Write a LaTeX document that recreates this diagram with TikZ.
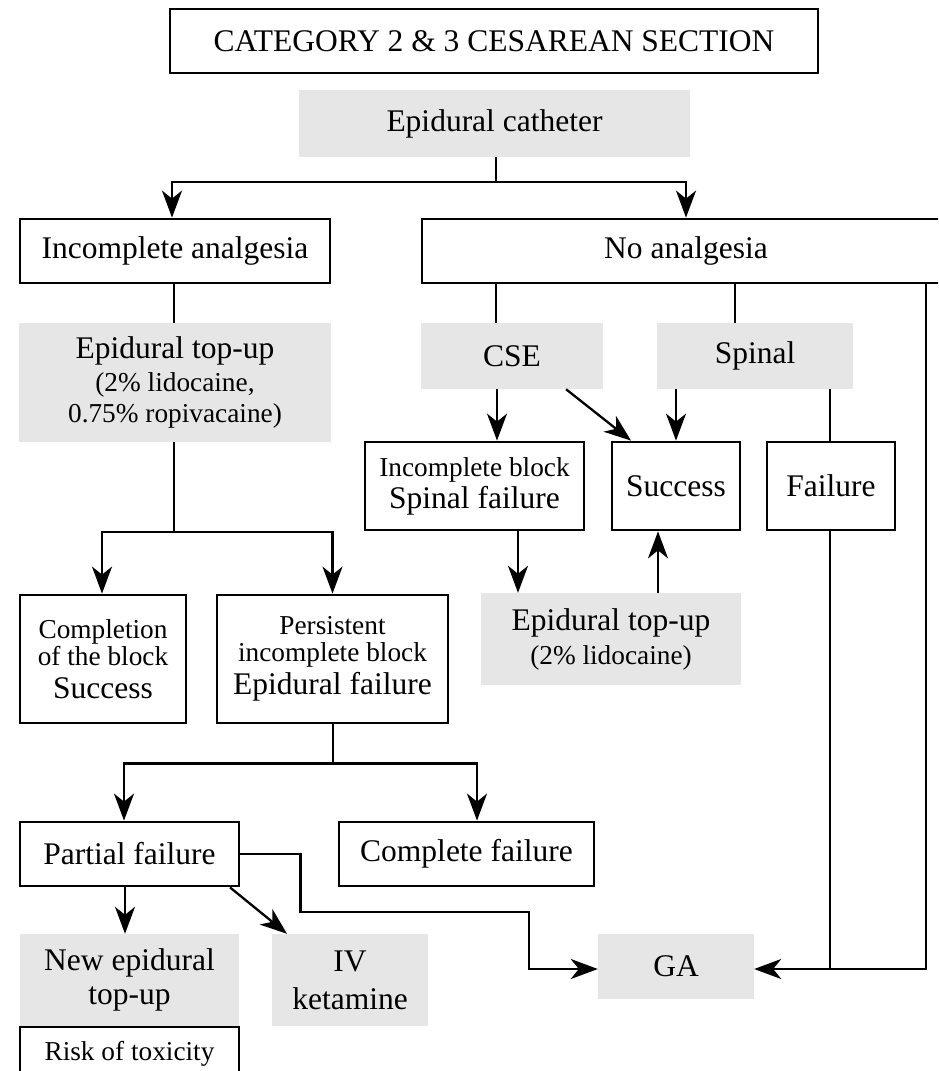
\documentclass[tikz,border=0pt]{standalone}
\usepackage{fontspec}
\setmainfont{Liberation Serif}
\usetikzlibrary{arrows.meta,calc}
\definecolor{boxgray}{RGB}{230,230,230}
\newcommand\bigtxt{\fontsize{31.5pt}{35pt}\selectfont}
\newcommand\smalltxt{\fontsize{27.3pt}{28pt}\selectfont}
\tikzset{
  base/.style={inner sep=0pt, align=center, font=\bigtxt},
  frame/.style={base, draw, line width=2.8pt},
  shade/.style={base, fill=boxgray},
  link/.style={line width=2.3pt},
  arr/.style={link, -{Stealth[length=27pt,width=20pt,inset=8pt]}},
  % box given by its corners (x1,y1) and (x2,y2)
  spanbox/.style args={#1:#2:#3:#4}{minimum width={(#3)-(#1)}, minimum height={(#4)-(#2)}},
}
\begin{document}
\begin{tikzpicture}[x=1pt,y=-1pt]
\useasboundingbox (0,0) rectangle (938,1071);
\clip (0,0) rectangle (938,1071);

% top of the chart
\node[frame, spanbox=170:9:818:73] (title) at (494,41) {CATEGORY 2 \& 3 CESAREAN SECTION};
\node[shade, spanbox=299:90:690:157] (cath) at (494.5,123.5) {Epidural catheter};

% two branches
\node[frame, spanbox=20:219:330:283] (inc) at (175,251) {Incomplete analgesia};
\node[frame, spanbox=422:219:950:283] (noan) at (686,251) {No analgesia};

% incomplete analgesia branch
\node[shade, spanbox=19:323:331:442] (top1) at (175,382.5)
  {Epidural top-up\\[-2pt]{\smalltxt (2\% lidocaine,}\\[-4pt]{\smalltxt 0.75\% ropivacaine)}};
\node[frame, spanbox=20:595:186:723] (compl) at (103,659)
  {{\smalltxt Completion}\\[-8pt]{\smalltxt of the block}\\[-2pt]Success};
\node[frame, spanbox=217:595:448:723] (pers) at (332.5,659)
  {{\smalltxt Persistent}\\[-8pt]{\smalltxt incomplete block}\\[-2pt]Epidural failure};
\node[frame, spanbox=20:822:239:886] (part) at (129.5,854) {Partial failure};
\node[frame, spanbox=339:822:594:886] (cfail) at (466.5,854) {Complete failure};
\node[shade, spanbox=20:934:239:1026] (newtop) at (129.5,980) {New epidural\\[-1pt]top-up};
\node[shade, spanbox=272:934:428:1026] (iv) at (350,980) {IV\\[3pt]ketamine};
\node[frame, spanbox=20:1027:239:1080] (risk) at (129.5,1053.5) {\smalltxt Risk of toxicity\vphantom{p}};
\node[shade, spanbox=598:934:754:999] (ga) at (676,966.5) {GA};

% no analgesia branch
\node[shade, spanbox=421:323:603:389] (cse) at (512,356) {CSE};
\node[shade, spanbox=657:323:853:389] (spin) at (755,356) {Spinal};
\node[frame, spanbox=365:442:584:530] (incb) at (474.5,486)
  {{\smalltxt Incomplete block}\\[-3pt]Spinal failure};
\node[frame, spanbox=612:442:740:530] (succ) at (676,486) {Success};
\node[frame, spanbox=767:442:895:530] (fail) at (831,486) {Failure};
\node[shade, spanbox=481:593:741:685] (top2) at (611,639)
  {Epidural top-up\\[-1pt]{\smalltxt (2\% lidocaine)}};

% connectors from the catheter
\coordinate (cathsplit) at ($(cath.south)+(1.5,25)$);
\draw[link] ([xshift=1.5pt]cath.south) -- (cathsplit);
\draw[arr] (cathsplit) -| ([xshift=-3pt]inc.north);
\draw[arr] (cathsplit) -| (noan.north);

% incomplete analgesia
\draw[link] ([xshift=-1pt]inc.south) -- ([xshift=-1pt]top1.north);
\coordinate (topsplit) at ($(top1.south)+(-1,90)$);
\draw[link] ([xshift=-1pt]top1.south) -- (topsplit);
\draw[arr] (topsplit) -| ([xshift=-1pt]compl.north);
\draw[arr] (topsplit) -| (pers.north);
\coordinate (perssplit) at ($(pers.south)+(0.5,39)$);
\draw[link] ([xshift=0.5pt]pers.south) -- (perssplit);
\draw[arr] (perssplit) -| ([xshift=-5.5pt]part.north);
\draw[arr] (perssplit) -| ([xshift=10.5pt]cfail.north);
\draw[arr] ([xshift=-4.5pt]part.south) -- ([xshift=-4.5pt]newtop.north);
\draw[arr] ([xshift=100.5pt]part.south) -- ([xshift=-63pt]iv.north);
\draw[arr] (part.east) -| ($(part.east)+(60,58)$) -| ($(ga.west)+(-69,2.5)$) -- ([yshift=-2.5pt]ga.west);

% no analgesia
\draw[link] ([xshift=-16pt]cse.north) -- ([xshift=-16pt]cse.north |- noan.south);
\draw[link] ([xshift=-20pt]spin.north) -- ([xshift=-20pt]spin.north |- noan.south);
\draw[arr] ([xshift=-15pt]cse.south) -- ([xshift=-15pt]cse.south |- incb.north);
\draw[arr] ([xshift=54pt]cse.south) -- ([xshift=-45pt]succ.north);
\draw[arr] (succ.north |- spin.south) -- (succ.north);
\draw[link] ([xshift=-1pt]fail.north |- spin.south) -- ([xshift=-1pt]fail.north);
\draw[arr] ([xshift=43.5pt]incb.south) -- ([xshift=43.5pt]incb.south |- top2.north);
\draw[arr] ([xshift=-18pt]succ.south |- top2.north) -- ([xshift=-18pt]succ.south);
\coordinate (gajoin) at ($(ga.east)+(172,2.5)$);
\draw[arr] ([xshift=240pt]noan.south) -- ([xshift=240pt]noan.south |- gajoin) -- ([yshift=-2.5pt]ga.east);
\draw[link] ([xshift=-1pt]fail.south) -- ([xshift=-1pt]fail.south |- gajoin);
\end{tikzpicture}
\end{document}
